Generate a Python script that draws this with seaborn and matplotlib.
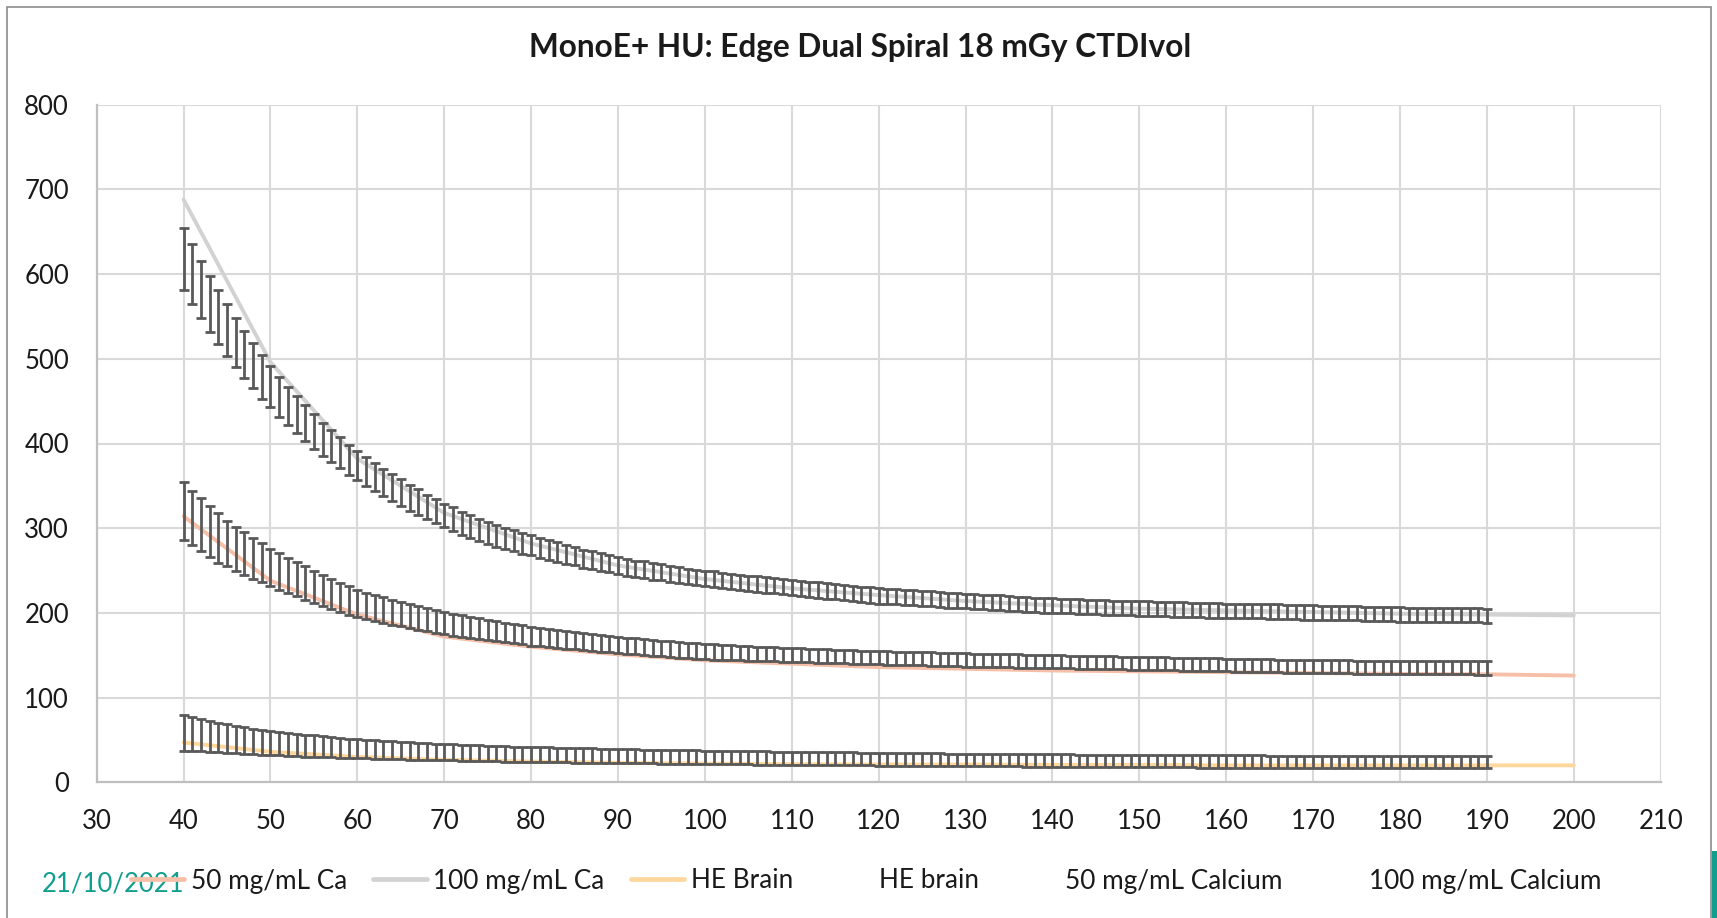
import numpy as np
import pandas as pd
import matplotlib
matplotlib.use("Agg")
import matplotlib.pyplot as plt
from matplotlib.lines import Line2D
from matplotlib.patches import Rectangle
import seaborn as sns

# ---------------- data ----------------
title = "MonoE+ HU: Edge Dual Spiral 18 mGy CTDIvol"
date_text = "21/10/2021"

# theoretical curves (keV 40..200, every 10)
kev_theory = [40, 50, 60, 70, 80, 90, 100, 110, 120, 130, 140, 150, 160, 170, 180, 190, 200]
ca50_theory = [314, 238, 198, 172, 160, 151, 144, 140, 136, 134, 132, 131, 130, 129, 128, 127.5, 126]
ca100_theory = [688, 496, 382, 318, 282, 256, 240, 229, 221, 214, 209, 205, 203, 201, 199, 198, 197]
he_theory = [47, 36, 30, 26.5, 24.5, 23, 22, 21.5, 21, 21, 20.5, 20.5, 20, 20, 20, 20, 20]

# measured (keV 40..190, every 1)
kev_meas = list(range(40, 191))

he_mean = [
    58.4, 57, 55.6, 54.3, 53, 51.8, 50.6, 49.5, 48.4, 47.4, 46.4,
    45.6, 44.8, 44, 43.3, 42.6, 42, 41.4, 40.8, 40.2, 39.7,
    39.2, 38.7, 38.2, 37.8, 37.4, 37, 36.6, 36.2, 35.9, 35.6,
    35.3, 35, 34.7, 34.4, 34.1, 33.8, 33.5, 33.3, 33.1, 32.9,
    32.7, 32.5, 32.3, 32.1, 31.9, 31.7, 31.5, 31.3, 31.1, 31,
    30.8, 30.7, 30.5, 30.4, 30.2, 30.1, 29.9, 29.8, 29.6, 29.5,
    29.4, 29.2, 29.1, 29, 28.9, 28.7, 28.6, 28.5, 28.4, 28.3,
    28.2, 28.1, 28, 27.9, 27.8, 27.7, 27.6, 27.5, 27.4, 27.3,
    27.2, 27.1, 27, 26.9, 26.8, 26.8, 26.7, 26.6, 26.5, 26.4,
    26.4, 26.3, 26.2, 26.1, 26.1, 26, 25.9, 25.9, 25.8, 25.7,
    25.7, 25.6, 25.5, 25.5, 25.4, 25.3, 25.3, 25.2, 25.2, 25.1,
    25, 25, 24.9, 24.9, 24.8, 24.8, 24.7, 24.7, 24.6, 24.6,
    24.5, 24.5, 24.4, 24.4, 24.3, 24.3, 24.3, 24.2, 24.2, 24.1,
    24.1, 24.1, 24, 24, 24, 23.9, 23.9, 23.9, 23.8, 23.8,
    23.8, 23.8, 23.7, 23.7, 23.7, 23.7, 23.6, 23.6, 23.6, 23.6,
]
he_err = [
    21, 20, 19, 18.2, 17.5, 16.8, 16.2, 15.6, 15, 14.6, 14.2,
    13.9, 13.6, 13.3, 13, 12.7, 12.4, 12.1, 11.8, 11.5, 11.2,
    11, 10.8, 10.6, 10.5, 10.3, 10.1, 10, 9.8, 9.7, 9.5,
    9.4, 9.3, 9.3, 9.2, 9.1, 9.1, 9, 8.9, 8.9, 8.8,
    8.8, 8.7, 8.7, 8.6, 8.6, 8.5, 8.5, 8.4, 8.4, 8.3,
    8.3, 8.3, 8.2, 8.2, 8.2, 8.1, 8.1, 8.1, 8, 8,
    7.9, 7.9, 7.9, 7.9, 7.8, 7.8, 7.8, 7.8, 7.7, 7.7,
    7.7, 7.7, 7.6, 7.6, 7.6, 7.6, 7.6, 7.5, 7.5, 7.5,
    7.5, 7.5, 7.5, 7.4, 7.4, 7.4, 7.4, 7.4, 7.4, 7.4,
    7.4, 7.4, 7.3, 7.3, 7.3, 7.3, 7.3, 7.3, 7.3, 7.3,
    7.3, 7.3, 7.3, 7.3, 7.3, 7.3, 7.3, 7.3, 7.3, 7.3,
    7.3, 7.3, 7.3, 7.3, 7.3, 7.3, 7.3, 7.3, 7.3, 7.3,
    7.3, 7.3, 7.3, 7.3, 7.3, 7.3, 7.3, 7.3, 7.3, 7.3,
    7.3, 7.3, 7.3, 7.3, 7.3, 7.3, 7.3, 7.3, 7.3, 7.3,
    7.3, 7.3, 7.3, 7.3, 7.3, 7.3, 7.3, 7.3, 7.3, 7.3,
]

ca50_mean = [
    320, 312, 304, 296, 288.5, 282, 275, 270, 264, 259, 254,
    249, 244.2, 239.6, 235.2, 230.9, 226.7, 222.6, 218.6, 214.7, 211,
    208.3, 205.7, 203.2, 200.8, 198.5, 196.2, 194, 191.8, 189.6, 187.5,
    186, 184.5, 183, 181.5, 180, 178.5, 177, 175.5, 174, 172.5,
    171.3, 170.2, 169.1, 168, 167, 166, 165, 164, 163, 162,
    161.2, 160.4, 159.6, 158.8, 158, 157.2, 156.5, 155.8, 155, 154.3,
    153.8, 153.4, 153, 152.6, 152.2, 151.8, 151.4, 151, 150.6, 150.3,
    150, 149.6, 149.3, 149, 148.6, 148.3, 148, 147.7, 147.4, 147,
    146.8, 146.5, 146.3, 146, 145.8, 145.5, 145.3, 145, 144.8, 144.5,
    144.3, 144, 143.8, 143.6, 143.4, 143.2, 143, 142.8, 142.6, 142.4,
    142.2, 142, 141.8, 141.6, 141.4, 141.2, 141, 140.8, 140.6, 140.4,
    140.2, 140, 139.8, 139.6, 139.4, 139.2, 139, 138.8, 138.6, 138.5,
    138.3, 138.1, 137.9, 137.7, 137.5, 137.3, 137.1, 137, 136.8, 136.6,
    136.5, 136.4, 136.3, 136.2, 136.1, 136, 135.9, 135.8, 135.7, 135.6,
    135.5, 135.5, 135.4, 135.4, 135.3, 135.3, 135.2, 135.2, 135.1, 135.1,
]
ca50_err = [
    34, 32, 31.5, 30, 29, 27, 26, 25.5, 24, 23, 22,
    21.4, 20.8, 20.2, 19.6, 19, 18.4, 17.8, 17.2, 16.6, 16,
    15.7, 15.4, 15.1, 14.8, 14.5, 14.2, 13.9, 13.6, 13.3, 13,
    12.8, 12.6, 12.4, 12.2, 12, 11.8, 11.6, 11.4, 11.2, 11,
    10.8, 10.7, 10.5, 10.4, 10.2, 10.1, 9.9, 9.8, 9.6, 9.5,
    9.5, 9.4, 9.4, 9.3, 9.3, 9.2, 9.2, 9.1, 9.1, 9,
    8.9, 8.8, 8.7, 8.6, 8.5, 8.4, 8.3, 8.2, 8.1, 8,
    8, 8, 8, 8, 7.9, 7.9, 7.9, 7.9, 7.9, 7.9,
    7.8, 7.8, 7.8, 7.8, 7.8, 7.8, 7.8, 7.8, 7.8, 7.8,
    7.7, 7.7, 7.7, 7.7, 7.7, 7.7, 7.7, 7.7, 7.7, 7.7,
    7.6, 7.6, 7.6, 7.6, 7.6, 7.6, 7.6, 7.6, 7.6, 7.6,
    7.6, 7.6, 7.6, 7.6, 7.6, 7.6, 7.6, 7.6, 7.6, 7.6,
    7.6, 7.6, 7.6, 7.6, 7.6, 7.6, 7.6, 7.6, 7.6, 7.6,
    7.7, 7.7, 7.7, 7.7, 7.7, 7.7, 7.7, 7.7, 7.7, 7.7,
    7.8, 7.8, 7.8, 7.8, 7.8, 7.8, 7.9, 7.9, 7.9, 7.9,
]

ca100_mean = [
    618, 600, 582, 565, 549, 534, 519, 505, 492, 479, 467,
    455, 444, 434, 424, 414, 405, 397, 389, 381, 374,
    367, 360, 354, 348, 342, 336, 331, 325, 320, 315,
    311, 306, 302, 298, 294, 291, 288, 285, 282, 280,
    277, 274, 272, 269, 267, 264, 262, 260, 258, 256,
    254, 252, 251, 249, 248, 246, 245, 243, 242, 241,
    240, 238, 237, 236, 235, 234, 233, 232, 231, 230,
    229, 228, 227, 226, 225, 224, 223, 222, 221, 220,
    219.5, 219, 218, 218, 217, 216.5, 216, 215, 214.5, 214,
    213.5, 213, 212, 212, 211, 210.5, 210, 209.5, 209, 208.6,
    208, 208, 207.5, 207, 207, 206.5, 206, 206, 205.5, 205,
    205, 204.5, 204.5, 204, 204, 203.5, 203.5, 203, 203, 202.5,
    202.5, 202, 202, 202, 201.5, 201.5, 201, 201, 200.5, 200.5,
    200, 200, 200, 199.5, 199.5, 199, 199, 198.5, 198.5, 198,
    198, 198, 197.5, 197.5, 197.5, 197, 197, 197, 197, 196.7,
]
ca100_err = [
    37, 35.5, 34, 33, 32, 30.5, 29, 27.5, 27, 26, 24,
    23.2, 22.5, 21.8, 21.1, 20.4, 19.7, 19, 18.3, 17.7, 17,
    16.7, 16.4, 16.1, 15.8, 15.5, 15.2, 14.9, 14.6, 14.3, 14,
    13.8, 13.6, 13.4, 13.2, 13, 12.8, 12.6, 12.4, 12.2, 12,
    11.8, 11.6, 11.4, 11.2, 11, 10.8, 10.6, 10.4, 10.2, 10,
    9.9, 9.8, 9.7, 9.6, 9.5, 9.4, 9.3, 9.2, 9.1, 9,
    9, 9, 9, 9, 9, 9, 9, 9, 9, 9,
    9, 9, 9, 9, 9, 9, 9, 9, 9, 9,
    8.9, 8.9, 8.9, 8.9, 8.9, 8.8, 8.8, 8.8, 8.8, 8.8,
    8.7, 8.7, 8.7, 8.7, 8.7, 8.6, 8.6, 8.6, 8.6, 8.6,
    8.6, 8.6, 8.6, 8.6, 8.6, 8.5, 8.5, 8.5, 8.5, 8.5,
    8.5, 8.5, 8.5, 8.5, 8.5, 8.5, 8.5, 8.5, 8.5, 8.5,
    8.5, 8.5, 8.5, 8.5, 8.5, 8.5, 8.5, 8.5, 8.5, 8.5,
    8.4, 8.4, 8.4, 8.4, 8.4, 8.4, 8.4, 8.4, 8.4, 8.4,
    8.3, 8.3, 8.3, 8.3, 8.3, 8.3, 8.3, 8.3, 8.3, 8.3,
]

line_labels = ["50 mg/mL Ca", "100 mg/mL Ca", "HE Brain"]
meas_labels = ["HE brain", "50 mg/mL Calcium", "100 mg/mL Calcium"]
x_ticks = list(range(30, 211, 10))
y_ticks = list(range(0, 801, 100))

# ---------------- style ----------------
sns.set_style("white")
plt.rcParams["font.family"] = ["Lato", "DejaVu Sans"]

c_ca50 = "#F6BFA8"
c_ca100 = "#D2D2D2"
c_he = "#FFD79C"
c_err = "#595959"
c_grid = "#D9D9D9"
c_text = "#1A1A1A"
c_teal = "#109E8E"

W, H = 1717, 918
fig = plt.figure(figsize=(W / 100, H / 100), dpi=100)
ax = fig.add_axes([96.7 / W, 1 - 782.3 / H, (1660.7 - 96.7) / W, (782.3 - 104.7) / H])

# theoretical lines
theory = pd.DataFrame({"keV": kev_theory, line_labels[0]: ca50_theory,
                       line_labels[1]: ca100_theory, line_labels[2]: he_theory})
for lab, col in zip(line_labels, [c_ca50, c_ca100, c_he]):
    sns.lineplot(data=theory, x="keV", y=lab, color=col, linewidth=2.8, ax=ax,
                 legend=False, zorder=3)

# measured series: error bars only
for mean, err in [(he_mean, he_err), (ca50_mean, ca50_err), (ca100_mean, ca100_err)]:
    ax.errorbar(kev_meas, mean, yerr=err, fmt="none", ecolor=c_err,
                elinewidth=2.0, capsize=3.4, capthick=2.0, zorder=4)

ax.set_xlim(30, 210)
ax.set_ylim(0, 800)
ax.set_xticks(x_ticks)
ax.set_yticks(y_ticks)
ax.set_xlabel("")
ax.set_ylabel("")
ax.grid(True, color=c_grid, linewidth=1.5)
ax.set_axisbelow(True)
for s in ["top", "right"]:
    ax.spines[s].set_visible(False)
for s in ["left", "bottom"]:
    ax.spines[s].set_color("#BFBFBF")
    ax.spines[s].set_linewidth(1.6)
ax.tick_params(axis="both", length=0, labelsize=18.5, colors=c_text)
ax.tick_params(axis="y", pad=20)
ax.tick_params(axis="x", pad=19)

fig.text(0.501, 1 - 47 / H, title, ha="center", va="center", fontsize=22.8,
         fontweight="bold", color=c_text)

handles = [Line2D([], [], color=c_ca50, lw=3.4),
           Line2D([], [], color=c_ca100, lw=3.4),
           Line2D([], [], color=c_he, lw=3.4),
           Line2D([], [], color="none"),
           Line2D([], [], color="none"),
           Line2D([], [], color="none")]
fig.legend(handles, line_labels + meas_labels, loc="center", ncol=6,
           bbox_to_anchor=(0.5045, 1 - 881 / H), frameon=False, fontsize=18.8,
           handlelength=2.05, handletextpad=0.25, columnspacing=1.0,
           labelcolor=c_text)

# outer chart frame and page decorations
fig.patches.append(Rectangle((7 / W, -0.05), (1711 - 7) / W, 1.05 - 7 / H,
                             transform=fig.transFigure, fill=False,
                             edgecolor="#8C8C8C", linewidth=1.2))
fig.patches.append(Rectangle((1712 / W, 0), 6 / W, (918 - 851) / H,
                             transform=fig.transFigure, facecolor=c_teal,
                             edgecolor="none"))
fig.text(42 / W, 1 - 884 / H, date_text, ha="left", va="center", fontsize=18.5,
         color=c_teal)

fig.savefig("out.png", dpi=100)
